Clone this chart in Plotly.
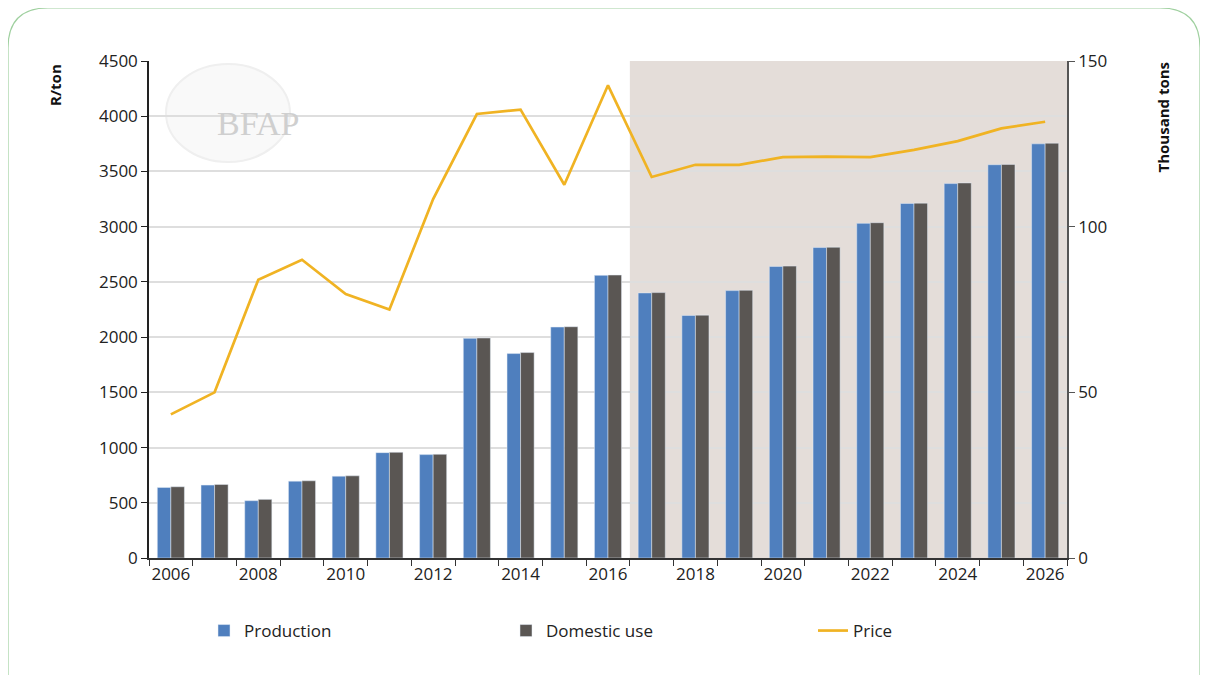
import plotly.graph_objects as go

years = list(range(2006, 2027))
production = [21.3, 22.0, 17.3, 23.2, 24.7, 31.8, 31.2, 66.3, 61.7, 69.7, 85.3,
              80.0, 73.2, 80.7, 88.0, 93.7, 101.0, 107.0, 113.0, 118.7, 125.0]
domestic_use = [21.5, 22.2, 17.7, 23.3, 24.8, 31.9, 31.3, 66.4, 62.0, 69.8, 85.4,
                80.1, 73.3, 80.8, 88.1, 93.8, 101.2, 107.1, 113.2, 118.8, 125.2]
price = [1300, 1500, 2520, 2700, 2390, 2250, 3250, 4020, 4060, 3380, 4280,
         3450, 3560, 3560, 3630, 3635, 3630, 3695, 3775, 3890, 3950]
x_ticks = list(range(2006, 2027, 2))

# page has an 8px body margin, so the figure is a bit smaller than the window
OFF = 8
W, H = 1200, 667
ML, MR, MT, MB = 149 - OFF, 141, 61 - OFF, 117
PW, PH = W - ML - MR, H - MT - MB


def px(x):
    return (x - OFF - ML) / PW


def py(y):
    return 1 - (y - OFF - MT) / PH


FONT = "Open Sans"

fig = go.Figure()
fig.add_trace(go.Bar(x=years, y=production, name="Production", marker_color="#4f7fbe",
                     yaxis="y2", legend="legend"))
fig.add_trace(go.Bar(x=years, y=domestic_use, name="Domestic use", marker_color="#5a5653",
                     yaxis="y2", legend="legend2"))
fig.add_trace(go.Scatter(x=years, y=price, name="Price", mode="lines",
                         line=dict(color="#f0b323", width=2.7), legend="legend3"))

# shaded projection period
fig.add_shape(type="rect", xref="x", yref="paper", x0=2016.5, x1=2026.5, y0=0, y1=1,
              fillcolor="#e4ddd9", line_width=0, layer="below")

# rounded green frame
r = 40
l, t, rr, b = 8, 8, 1200, 690
path = (f"M {px(l)},{py(b)} L {px(l)},{py(t + r)} Q {px(l)},{py(t)} {px(l + r)},{py(t)} "
        f"L {px(rr - r)},{py(t)} Q {px(rr)},{py(t)} {px(rr)},{py(t + r)} L {px(rr)},{py(b)}")
fig.add_shape(type="path", xref="paper", yref="paper", path=path,
              line=dict(color="#9fd09f", width=1.2))

# faint watermark
fig.add_shape(type="circle", xref="paper", yref="paper", x0=px(166), x1=px(290),
              y0=py(162), y1=py(64), line=dict(color="#efefef", width=2),
              fillcolor="rgba(230,230,230,0.25)", layer="below")
fig.add_annotation(text="BFAP", x=px(215), y=py(103), xref="paper", yref="paper",
                   showarrow=False, font=dict(family="Liberation Serif", size=34, color="#cfcfcf"))

fig.add_annotation(text="<b>R/ton</b>", textangle=-90, x=px(55), y=py(62), xref="paper",
                   yref="paper", xanchor="center", yanchor="top", showarrow=False,
                   font=dict(family=FONT, size=15, color="#111"))
fig.add_annotation(text="<b>Thousand tons</b>", textangle=-90, x=px(1162), y=py(60),
                   xref="paper", yref="paper", xanchor="center", yanchor="top",
                   showarrow=False, font=dict(family=FONT, size=15, color="#111"))

leg = dict(orientation="h", xanchor="left", yanchor="middle", y=py(631),
           font=dict(size=17), bgcolor="rgba(0,0,0,0)")

fig.update_layout(
    width=W, height=H,
    margin=dict(l=ML, r=MR, t=MT, b=MB),
    paper_bgcolor="white", plot_bgcolor="white",
    barmode="group", bargap=0.38, bargroupgap=0,
    font=dict(family=FONT, size=17, color="#222"),
    showlegend=True,
    legend=dict(leg, x=px(204)),
    legend2=dict(leg, x=px(506)),
    legend3=dict(leg, x=px(813)),
    xaxis=dict(range=[2005.5, 2026.5], tickvals=x_ticks, showgrid=False, zeroline=False,
               showline=True, linecolor="#333", linewidth=1.5, ticks="",
               minor=dict(tick0=2005.5, dtick=1, ticks="outside", ticklen=6,
                          tickcolor="#333", showgrid=False),
               tickfont=dict(size=17)),
    yaxis=dict(range=[0, 4500], dtick=500, showgrid=True, gridcolor="#dedede", gridwidth=1.5,
               zeroline=False, showline=True, linecolor="#222", linewidth=1.5,
               ticks="outside", ticklen=6, tickcolor="#222", tickfont=dict(size=17)),
    yaxis2=dict(range=[0, 150], dtick=50, overlaying="y", side="right", showgrid=False,
                zeroline=False, showline=True, linecolor="#555", linewidth=1.5,
                ticks="outside", ticklen=6, tickcolor="#555", tickfont=dict(size=17)),
)

fig.write_html("out.html")
